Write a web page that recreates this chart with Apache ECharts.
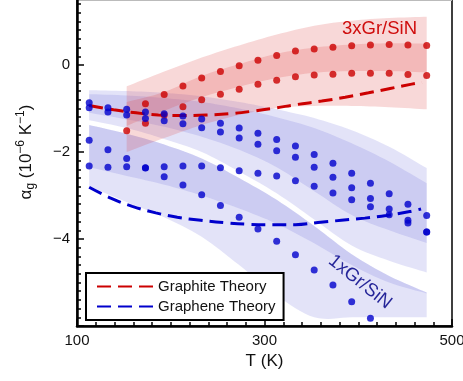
<!DOCTYPE html>
<html>
<head>
<meta charset="utf-8">
<script src="https://cdn.jsdelivr.net/npm/echarts@6/dist/echarts.min.js"></script>
<style>
  html, body { margin: 0; padding: 0; background: #fff; }
  #chart { width: 463px; height: 381px; }
</style>
</head>
<body>
<div id="chart"></div>
<script>
// measured temperatures (K) of the dot columns
const tempDots = [113, 133, 153, 173, 193, 213, 233, 253, 273, 293, 313, 333, 353, 373, 393, 413, 433, 453, 473];

// 3xGr/SiN samples
const redUpper = [-0.89, -0.68, -0.48, -0.30, -0.15, -0.02, 0.11, 0.22, 0.32, 0.37, 0.41, 0.44, 0.46, 0.47, 0.46, 0.45]; // from 173 K
const redLower = [-1.51, -1.34, -1.15, -0.96, -0.80, -0.67, -0.56, -0.44, -0.35, -0.27, -0.23, -0.21, -0.19, -0.19, -0.19, -0.22, -0.24]; // from 153 K

// 1xGr/SiN samples
const blueRow1 = [-0.87, -0.98, -1.02, -1.08, -1.12, -1.17, -1.24, -1.34, -1.45, -1.57, -1.71, -1.86, -2.06, -2.26, -2.49, -2.72, -2.96, -3.20, -3.46];
const blueRow2 = [-0.98, -1.08, -1.15, -1.23, -1.28, -1.35, -1.44, -1.54, -1.68, -1.82, -1.97, -2.12, -2.35, -2.58, -2.82, -3.07, -3.31, -3.57, -3.84];
const blueRow3 = [-1.73, -1.95, -2.15, -2.36, -2.57, -2.76, -2.98, -3.23, -3.50, -3.77, -4.05, -4.36, -4.71, -5.06, -5.44, -5.82]; // to 413 K
const blueRow4 = [-2.32, -2.35, -2.34, -2.37, -2.34, -2.32, -2.32, -2.36, -2.43, -2.49, -2.55, -2.66, -2.79, -2.94, -3.10, -3.26, -3.44, -3.63, -3.84];

// uncertainty bands
const tRedBand = [153, 193, 233, 273, 313, 353, 393, 433, 473];
const redBandATop = [-0.49, -0.15, 0.17, 0.45, 0.70, 0.90, 1.02, 1.08, 1.11];
const redBandABot = [-1.40, -1.05, -0.74, -0.50, -0.30, -0.18, -0.14, -0.14, -0.17];
const redBandBTop = [-0.85, -0.62, -0.25, 0.02, 0.26, 0.40, 0.47, 0.50, 0.49];
const redBandBBot = [-2.00, -1.68, -1.38, -1.15, -0.99, -0.94, -0.94, -0.97, -1.02];

const tBlueBand = [113, 153, 193, 233, 273, 313, 353, 393, 433, 473];
const blueU1Top = [-0.58, -0.60, -0.64, -0.72, -0.85, -1.02, -1.22, -1.50, -1.88, -2.37];
const blueU1Bot = [-1.10, -1.25, -1.42, -1.65, -1.95, -2.35, -2.90, -3.45, -3.80, -4.09];
const blueU2Top = [-0.67, -0.70, -0.76, -0.85, -1.00, -1.20, -1.45, -1.80, -2.22, -2.72];
const blueU2Bot = [-1.27, -1.45, -1.70, -2.00, -2.45, -2.95, -3.55, -4.15, -4.50, -4.77];
const blueLTop = [-1.38, -1.58, -1.83, -2.15, -2.60, -3.10, -3.70, -4.35, -4.85, -5.23];
const blueLBot = [-2.79, -3.15, -3.50, -3.95, -4.60, -5.30, -5.80, -5.80, -5.80, -5.80];
const blueL2Bot = [-2.35, -2.55, -2.75, -3.00, -3.30, -3.65, -4.10, -4.60, -5.00, -5.25];

// theory curves
const tGraphite = [113, 139, 163, 187, 212, 238, 263, 288, 311, 334, 361, 386, 411, 434, 457, 468];
const graphiteTheory = [-0.93, -1.03, -1.10, -1.15, -1.16, -1.15, -1.12, -1.06, -0.99, -0.91, -0.83, -0.74, -0.64, -0.54, -0.44, -0.40];
const tGraphene = [113, 136, 159, 184, 207, 232, 260, 281, 308, 333, 357, 382, 407, 430, 455, 467];
const grapheneTheory = [-2.81, -3.06, -3.25, -3.40, -3.50, -3.57, -3.63, -3.66, -3.67, -3.67, -3.62, -3.57, -3.52, -3.46, -3.37, -3.31];

const RED = '#cc0000';
const BLUE = '#0000cc';
const RED_FILL = 'rgba(220,60,60,0.2)';
const BLUE_FILL = 'rgba(90,90,215,0.17)';

const zip = (xs, ys) => ys.map((y, i) => [xs[i], y]);

// smooth a pixel polyline (catmull-rom), used only for the band outlines
function smoothPts(p) {
  const out = [];
  const n = p.length;
  for (let i = 0; i < n - 1; i++) {
    const p0 = p[Math.max(i - 1, 0)], p1 = p[i], p2 = p[i + 1], p3 = p[Math.min(i + 2, n - 1)];
    for (let s = 0; s < 8; s++) {
      const u = s / 8, u2 = u * u, u3 = u2 * u;
      const f = (a, b, c, d) => 0.5 * (2 * b + (-a + c) * u + (2 * a - 5 * b + 4 * c - d) * u2 + (-a + 3 * b - 3 * c + d) * u3);
      out.push([f(p0[0], p1[0], p2[0], p3[0]), f(p0[1], p1[1], p2[1], p3[1])]);
    }
  }
  out.push(p[n - 1]);
  return out;
}

// band drawn as one filled polygon between lo and hi through the axes
function band(t, lo, hi, color) {
  return {
    type: 'custom', silent: true, z: 1,
    data: t.map((x, i) => [x, lo[i], hi[i]]),
    encode: { x: 0, y: [1, 2] },
    renderItem: function (params, api) {
      if (params.dataIndex !== 0) return null;
      const top = smoothPts(t.map((x, i) => api.coord([x, hi[i]])));
      const bot = smoothPts(t.map((x, i) => api.coord([x, lo[i]])));
      return {
        type: 'polygon',
        shape: { points: top.concat(bot.reverse()) },
        style: { fill: color }
      };
    }
  };
}

function dots(t, v, color) {
  return { type: 'scatter', data: zip(t, v), symbolSize: 7, itemStyle: { color: color }, z: 5, silent: true };
}

const chart = echarts.init(document.getElementById('chart'));

const series = [
  band(tBlueBand, blueU1Bot, blueU1Top, BLUE_FILL),
  band(tBlueBand, blueU2Bot, blueU2Top, BLUE_FILL),
  band(tBlueBand, blueLBot, blueLTop, BLUE_FILL),
  band(tBlueBand, blueL2Bot, blueLTop, BLUE_FILL),
  band(tRedBand, redBandABot, redBandATop, RED_FILL),
  band(tRedBand, redBandBBot, redBandBTop, RED_FILL),
  {
    name: 'Graphite Theory', type: 'line', data: zip(tGraphite, graphiteTheory),
    smooth: 0.4, symbol: 'none', z: 4,
    lineStyle: { color: RED, width: 3, type: [14, 7] }, itemStyle: { color: RED }
  },
  {
    name: 'Graphene Theory', type: 'line', data: zip(tGraphene, grapheneTheory),
    smooth: 0.4, symbol: 'none', z: 4,
    lineStyle: { color: BLUE, width: 3, type: [14, 7] }, itemStyle: { color: BLUE }
  },
  dots(tempDots.slice(2), redLower, RED),
  dots(tempDots.slice(3), redUpper, RED),
  dots(tempDots, blueRow1, BLUE),
  dots(tempDots, blueRow2, BLUE),
  dots(tempDots.slice(0, blueRow3.length), blueRow3, BLUE),
  dots(tempDots, blueRow4, BLUE)
];

const font = 'Liberation Sans, Arial, sans-serif';

chart.setOption({
  animation: false,
  textStyle: { fontFamily: font },
  grid: {
    left: 77, right: 11, top: -22, bottom: 55,
    outerBoundsMode: 'none',
    show: true, borderColor: '#000', borderWidth: 1.5, backgroundColor: 'transparent'
  },
  legend: {
    data: ['Graphite Theory', 'Graphene Theory'],
    itemStyle: { opacity: 0 },
    orient: 'vertical', left: 86, top: 273,
    padding: [6, 8, 6, 10], itemGap: 5, itemWidth: 56, itemHeight: 14,
    borderColor: '#000', borderWidth: 2, backgroundColor: '#fff',
    textStyle: { fontSize: 15, color: '#111', fontFamily: font },
    selectedMode: false
  },
  xAxis: {
    type: 'value', min: 100, max: 500, interval: 200,
    name: 'T (K)', nameLocation: 'middle', nameGap: 27,
    nameTextStyle: { fontSize: 17, color: '#111', fontFamily: font },
    axisLine: { onZero: false, lineStyle: { color: '#000', width: 2.5 } },
    axisTick: { inside: true, length: 7, lineStyle: { color: '#000', width: 1.5 } },
    minorTick: { show: true, splitNumber: 10, length: 4, lineStyle: { color: '#000', width: 1.5 } },
    axisLabel: { fontSize: 15, color: '#111', margin: 7, fontFamily: font },
    splitLine: { show: false }
  },
  yAxis: {
    type: 'value', min: -6, max: 2, interval: 2,
    name: '{t|α}{sub|g}{t| (10}{sup|−6}{t| K}{sup|−1}{t|)}',
    nameLocation: 'middle', nameGap: 40,
    nameTextStyle: {
      color: '#111', fontFamily: font,
      rich: {
        t: { fontSize: 17, fontFamily: font, color: '#111', lineHeight: 22 },
        sub: { fontSize: 12, fontFamily: font, color: '#111', verticalAlign: 'bottom', lineHeight: 22 },
        sup: { fontSize: 12, fontFamily: font, color: '#111', verticalAlign: 'top', lineHeight: 22 }
      }
    },
    axisLine: { onZero: false, lineStyle: { color: '#000', width: 2.5 } },
    axisTick: { inside: true, length: 7, lineStyle: { color: '#000', width: 1.5 } },
    minorTick: { show: true, splitNumber: 10, length: 4, lineStyle: { color: '#000', width: 1.5 } },
    axisLabel: {
      fontSize: 15, color: '#111', margin: 7, fontFamily: font,
      formatter: v => (v === -6 || v === 2) ? '' : String(v).replace('-', '−')
    },
    splitLine: { show: false }
  },
  graphic: [
    { type: 'line', shape: { x1: 77, y1: 0.5, x2: 452, y2: 0.5 }, style: { stroke: '#bbb', lineWidth: 1 }, silent: true },
    { type: 'text', x: 342, y: 19, style: { text: '3xGr/SiN', fontSize: 18.5, fill: RED, fontFamily: font }, silent: true },
    {
      type: 'text', x: 360, y: 282, rotation: -0.675,
      style: { text: '1xGr/SiN', fontSize: 18.5, fill: '#1a1a8c', fontFamily: font, align: 'center', verticalAlign: 'middle' },
      silent: true
    }
  ],
  series: series
});
</script>
</body>
</html>
